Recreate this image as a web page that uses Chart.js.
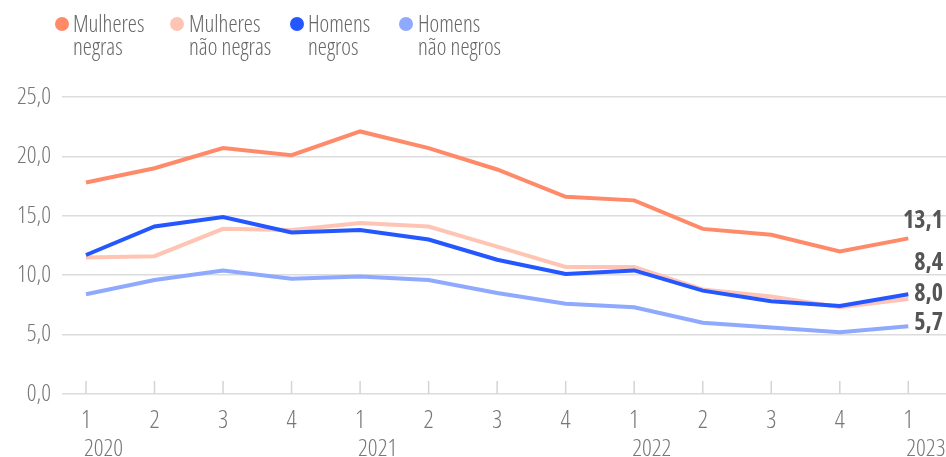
<!DOCTYPE html>
<html>
<head>
<meta charset="utf-8">
<script src="https://cdn.jsdelivr.net/npm/chart.js@4"></script>
<style>
  body { margin: 0; background: #fff; }
  #wrap { position: relative; width: 946px; height: 457px; }
  #legend { position: absolute; left: 0; top: 0; font-family: 'Open Sans', sans-serif; font-weight: 300; font-stretch: condensed; font-size: 23px; color: #666; line-height: 23px; }
  .item { position: absolute; top: 12px; white-space: nowrap; }
  .dot { position: absolute; top: 17px; width: 14px; height: 14px; border-radius: 50%; }
</style>
</head>
<body>
<div id="wrap">
  <canvas id="chart" width="946" height="457"></canvas>
  <div id="legend"></div>
</div>
<script>
// Dados
const quarters = ['1', '2', '3', '4', '1', '2', '3', '4', '1', '2', '3', '4', '1'];
const years = ['2020', '2021', '2022', '2023'];
const seriesNames = ['Mulheres\nnegras', 'Mulheres\nnão negras', 'Homens\nnegros', 'Homens\nnão negros'];
const mulheresNegras = [17.8, 19.0, 20.7, 20.1, 22.1, 20.7, 18.9, 16.6, 16.3, 13.9, 13.4, 12.0, 13.1];
const mulheresNaoNegras = [11.5, 11.6, 13.9, 13.8, 14.4, 14.1, 12.4, 10.7, 10.7, 8.8, 8.2, 7.3, 8.0];
const homensNegros = [11.7, 14.1, 14.9, 13.6, 13.8, 13.0, 11.3, 10.1, 10.4, 8.7, 7.8, 7.4, 8.4];
const homensNaoNegros = [8.4, 9.6, 10.4, 9.7, 9.9, 9.6, 8.5, 7.6, 7.3, 6.0, 5.6, 5.2, 5.7];

const colors = ['#ff8a6a', '#ffc4b4', '#2457ff', '#8fa9ff'];
const allSeries = [mulheresNegras, mulheresNaoNegras, homensNegros, homensNaoNegros];
// deslocamento vertical dos rótulos finais (px)
const endLabelShift = [-17, -5, -31, -3];
const FONT = "'Open Sans', sans-serif";
const LIGHT = '300 condensed';

// Legenda em HTML
const legendX = [[55, 73], [170, 189], [290, 308], [399, 418]];
const legend = document.getElementById('legend');
seriesNames.forEach((name, i) => {
    const dot = document.createElement('div');
    dot.className = 'dot';
    dot.style.left = legendX[i][0] + 'px';
    dot.style.background = colors[i];
    legend.appendChild(dot);
    const item = document.createElement('div');
    item.className = 'item';
    item.style.left = legendX[i][1] + 'px';
    item.innerHTML = name.replace('\n', '<br>');
    legend.appendChild(item);
});

const fmt = v => v.toFixed(1).replace('.', ',');

// Marcas, anos e rótulos finais
const extras = {
    id: 'extras',
    afterDatasetsDraw(chart) {
        const ctx = chart.ctx;
        const x = chart.scales.x;
        const y = chart.scales.y;
        const bottom = chart.chartArea.bottom;
        ctx.save();
        ctx.strokeStyle = '#d4d4d4';
        ctx.lineWidth = 1.5;
        quarters.forEach((q, i) => {
            const px = x.getPixelForValue(i);
            ctx.beginPath();
            ctx.moveTo(px, bottom - 13);
            ctx.lineTo(px, bottom);
            ctx.stroke();
        });
        ctx.fillStyle = '#777';
        ctx.font = LIGHT + ' 24px ' + FONT;
        ctx.textAlign = 'left';
        ctx.textBaseline = 'middle';
        years.forEach((yr, i) => {
            ctx.fillText(yr, x.getPixelForValue(i * 4) - 2, 449);
        });
        ctx.fillStyle = '#555';
        ctx.font = 'bold condensed 24px ' + FONT;
        ctx.textAlign = 'right';
        allSeries.forEach((s, i) => {
            const last = s[s.length - 1];
            ctx.fillText(fmt(last), 943, y.getPixelForValue(last) + endLabelShift[i]);
        });
        ctx.restore();
    }
};

const datasets = allSeries.map((s, i) => ({
    label: seriesNames[i],
    data: s.map((v, j) => ({ x: j, y: v })),
    borderColor: colors[i],
    backgroundColor: colors[i],
    borderWidth: 4,
    pointRadius: 0,
    tension: 0,
    order: i === 2 ? 0 : 1
}));

new Chart(document.getElementById('chart'), {
    type: 'line',
    data: { datasets: datasets },
    options: {
        responsive: false,
        animation: false,
        layout: { padding: { top: 97, right: 0, left: 0, bottom: 0 } },
        plugins: { legend: { display: false }, tooltip: { enabled: false } },
        scales: {
            x: {
                type: 'linear',
                min: -0.35,
                max: 12.55,
                afterBuildTicks: s => { s.ticks = quarters.map((q, i) => ({ value: i })); },
                afterFit: s => { s.height = 63; },
                grid: { display: false },
                border: { display: false },
                ticks: {
                    color: '#777',
                    font: { family: FONT, size: 25, weight: LIGHT },
                    padding: 4,
                    maxRotation: 0,
                    autoSkip: false,
                    callback: (v) => quarters[v]
                }
            },
            y: {
                min: 0,
                max: 25,
                afterFit: s => { s.width = 62; },
                grid: { color: '#dcdcdc', lineWidth: 1.5, drawTicks: false },
                border: { display: false },
                ticks: {
                    stepSize: 5,
                    color: '#777',
                    font: { family: FONT, size: 24, weight: LIGHT },
                    padding: 11,
                    callback: v => fmt(v)
                }
            }
        }
    },
    plugins: [extras]
});
</script>
</body>
</html>
